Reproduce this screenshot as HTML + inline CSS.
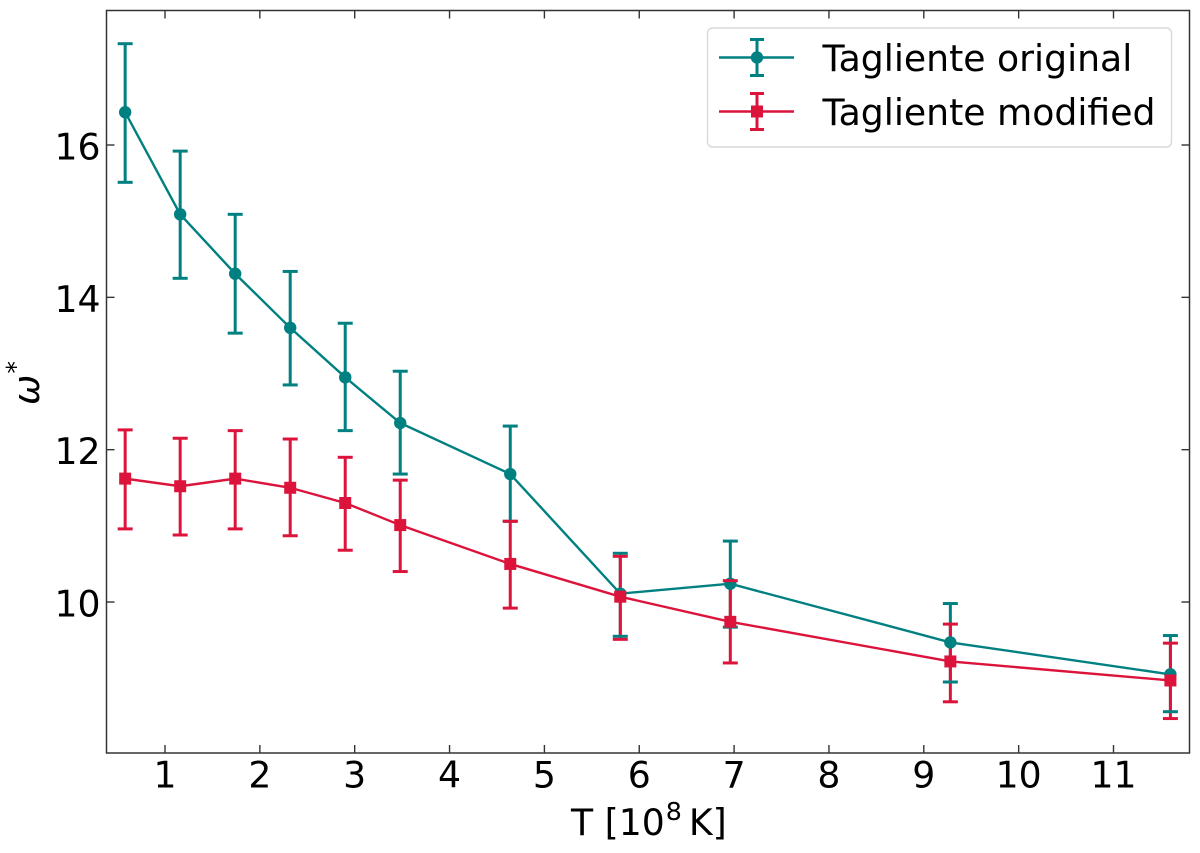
<!DOCTYPE html>
<html lang="en">
<head>
<meta charset="utf-8">
<title>Tagliente chart</title>
<style>
html,body{margin:0;padding:0;background:#fff;}
svg{display:block;}
text{font-family:"DejaVu Sans",sans-serif;fill:#000;}
</style>
</head>
<body>
<svg id="chart" xmlns="http://www.w3.org/2000/svg" width="1200" height="853" viewBox="0 0 1200 853"></svg>
<script>
const temperature = [0.58, 1.16, 1.74, 2.32, 2.9, 3.48, 4.64, 5.8, 6.96, 9.28, 11.6];
const originalValues = [16.43, 15.09, 14.31, 13.6, 12.95, 12.35, 11.68, 10.11, 10.24, 9.47, 9.05];
const originalUpper = [17.33, 15.92, 15.09, 14.34, 13.66, 13.03, 12.31, 10.64, 10.8, 9.98, 9.56];
const originalLower = [15.51, 14.25, 13.53, 12.85, 12.25, 11.68, 11.06, 9.55, 9.67, 8.95, 8.56];
const modifiedValues = [11.62, 11.52, 11.62, 11.5, 11.3, 11.01, 10.5, 10.07, 9.74, 9.22, 8.97];
const modifiedUpper = [12.26, 12.15, 12.25, 12.14, 11.9, 11.6, 11.06, 10.6, 10.28, 9.71, 9.46];
const modifiedLower = [10.96, 10.88, 10.96, 10.87, 10.68, 10.4, 9.92, 9.51, 9.2, 8.69, 8.47];
const xTicks = [1, 2, 3, 4, 5, 6, 7, 8, 9, 10, 11];
const yTicks = [10, 12, 14, 16];

const TEAL = '#008080';
const CRIMSON = '#dc143c';
const AXIS = '#333';
const FONT = 36.2;
const plot = {left: 106.5, right: 1189.5, top: 10.5, bottom: 753};
const svg = document.getElementById('chart');

function xScale(v) { return 165 + (v - 1) * 94.85; }
function yScale(v) { return 145 + (16 - v) * 76.17; }

function make(tag, attrs, text) {
  const el = document.createElementNS('http://www.w3.org/2000/svg', tag);
  for (const k in attrs) el.setAttribute(k, attrs[k]);
  if (text !== undefined) el.textContent = text;
  svg.appendChild(el);
  return el;
}
function seg(x1, y1, x2, y2, color, w) {
  return make('line', {x1: x1, y1: y1, x2: x2, y2: y2, stroke: color, 'stroke-width': w});
}

// error bar stems, drawn beneath every line and marker
function drawStems(prefix, upper, lower, color) {
  temperature.forEach(function (t, i) {
    const stem = seg(xScale(t), yScale(upper[i]), xScale(t), yScale(lower[i]), color, 3);
    
    
  });
}

function drawSeries(prefix, values, upper, lower, color, square) {
  const pts = temperature.map(function (t, i) { return xScale(t) + ',' + yScale(values[i]); }).join(' ');
  const line = make('polyline', {points: pts, fill: 'none', stroke: color, 'stroke-width': 2.4});
  
  
  temperature.forEach(function (t, i) {
    const x = xScale(t);
    [upper[i], lower[i]].forEach(function (v) {
      const cap = seg(x - 7.5, yScale(v), x + 7.5, yScale(v), color, 3);
      
      
    });
    let mark;
    if (square) {
      mark = make('rect', {x: x - 6, y: yScale(values[i]) - 6, width: 12, height: 12, fill: color});
    } else {
      mark = make('circle', {cx: x, cy: yScale(values[i]), r: 6.2, fill: color});
    }
    
    
  });
}

drawStems('original', originalUpper, originalLower, TEAL);
drawStems('modified', modifiedUpper, modifiedLower, CRIMSON);
drawSeries('original', originalValues, originalUpper, originalLower, TEAL, false);
drawSeries('modified', modifiedValues, modifiedUpper, modifiedLower, CRIMSON, true);

// axes
xTicks.forEach(function (v) {
  const x = xScale(v);
  const b = seg(x, plot.bottom, x, plot.bottom - 8, AXIS, 1.4);
  
  
  const t = seg(x, plot.top, x, plot.top + 8, AXIS, 1.4);
  
  
  const lab = make('text', {x: x, y: 787.5, 'font-size': FONT, 'text-anchor': 'middle'}, String(v));
  
  
});
yTicks.forEach(function (v) {
  const y = yScale(v);
  const l = seg(plot.left, y, plot.left + 8, y, AXIS, 1.4);
  
  
  const r = seg(plot.right, y, plot.right - 8, y, AXIS, 1.4);
  
  
  const lab = make('text', {x: 100.5, y: y + 14.5, 'font-size': FONT, 'text-anchor': 'end'}, String(v));
  
  
});
const frame = make('rect', {x: plot.left, y: plot.top, width: plot.right - plot.left, height: plot.bottom - plot.top, fill: 'none', stroke: AXIS, 'stroke-width': 1.5});



// axis titles
const xTitle = make('text', {x: 571, y: 835, 'font-size': FONT});


xTitle.innerHTML = '<tspan>T [10</tspan><tspan font-size="25.3" dy="-15" dx="1">8</tspan><tspan dy="15" dx="7">K]</tspan>';

const yTitle = make('text', {transform: 'translate(39,383) rotate(-90)', 'font-size': FONT, 'font-style': 'italic', 'text-anchor': 'middle'});


yTitle.innerHTML = '<tspan>ω</tspan><tspan font-size="25.3" font-style="normal" dy="-15" dx="1">*</tspan>';

// legend
const legendBox = make('rect', {x: 707.5, y: 28, width: 464, height: 119, rx: 5, ry: 5, fill: '#fff', 'fill-opacity': 0.8, stroke: '#d9d9d9', 'stroke-width': 1.4});



function legendEntry(prefix, label, color, y, square) {
  const ln = seg(719, y, 794, y, color, 2.4);
  
  
  const st = seg(757, y - 18, 757, y + 18, color, 3);
  
  
  [y - 18, y + 18].forEach(function (cy) {
    const cp = seg(750, cy, 764, cy, color, 3);
    
    
  });
  let m;
  if (square) {
    m = make('rect', {x: 751, y: y - 6, width: 12, height: 12, fill: color});
  } else {
    m = make('circle', {cx: 757, cy: y, r: 6.2, fill: color});
  }
  
  
  const tx = make('text', {x: 822.5, y: y + 13.7, 'font-size': FONT}, label);
  
  
}
legendEntry('original', 'Tagliente original', TEAL, 57.5, false);
legendEntry('modified', 'Tagliente modified', CRIMSON, 111.5, true);
</script>
</body>
</html>
